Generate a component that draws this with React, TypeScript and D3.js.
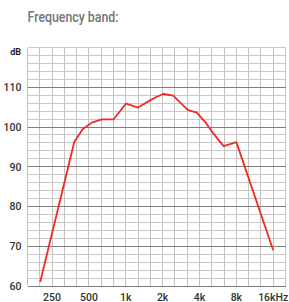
import * as d3 from "d3";

// response curve
const curveHz = [200, 380, 446, 528, 637, 793, 1006, 1260, 1578, 1790, 2027, 2446, 3200, 3800, 4440, 5180, 6300, 8000, 16000];
const curveDb = [61, 96.3, 99.5, 101.1, 101.9, 101.9, 105.9, 104.9, 106.7, 107.6, 108.3, 107.9, 104.3, 103.6, 101.3, 98.4, 95.2, 96.2, 69];

const xTickHz = [250, 500, 1000, 2000, 4000, 8000, 16000];
const xTickLabels = ["250", "500", "1k", "2k", "4k", "8k", "16kHz"];
const yTicks = [60, 70, 80, 90, 100, 110];

const width = 289;
const height = 302;
const marginLeft = 27.5;
const marginRight = 3.5;
const marginTop = 47.5;
const marginBottom = 16;

export default function App() {
  const x = d3
    .scaleLog()
    .base(2)
    .domain([1000 * Math.pow(2, -8 / 3), 1000 * Math.pow(2, 13 / 3)])
    .range([marginLeft, width - marginRight]);
  const y = d3
    .scaleLinear()
    .domain([60, 120])
    .range([height - marginBottom, marginTop]);

  // third-octave grid
  const vLines = d3.range(-8, 14).map((n) => 1000 * Math.pow(2, n / 3));
  const hLines = d3.range(60, 121, 2);

  const line = d3
    .line<number>()
    .x((_, i) => x(curveHz[i]))
    .y((d) => y(d));

  return (
    <svg
      width={width}
      height={height}
      style={{ position: "absolute", left: 0, top: 0, background: "#fff" }}
      fontFamily="Roboto, 'DejaVu Sans', sans-serif"
    >
      <text x={27.5} y={22} fontSize={15.5} fontWeight={500} fill="#757575" textLength={91} lengthAdjust="spacingAndGlyphs">
        Frequency band:
      </text>

      <g shapeRendering="crispEdges">
        {vLines.map((f, i) => (
          <line key={"v" + i} x1={x(f)} x2={x(f)} y1={y(60)} y2={y(120)} stroke="#c2c2c2" strokeWidth={1} />
        ))}
        {hLines.map((d) => (
          <line
            key={"h" + d}
            x1={marginLeft}
            x2={width - marginRight}
            y1={y(d)}
            y2={y(d)}
            stroke={d % 10 === 0 && d < 120 ? "#7c7c7c" : "#c8c8c8"}
            strokeWidth={1}
          />
        ))}
      </g>

      <text x={21} y={54.5} fontSize={9} fontWeight={700} fill="#222" textAnchor="end">
        dB
      </text>
      {yTicks.map((d) => (
        <text key={"y" + d} x={21.5} y={y(d)} dy="0.36em" fontSize={10.5} fontWeight={500} fill="#333" textAnchor="end">
          {d}
        </text>
      ))}
      {xTickHz.map((f, i) => (
        <text key={"x" + f} x={x(f)} y={300.5} fontSize={10.5} fontWeight={500} fill="#333" textAnchor="middle">
          {xTickLabels[i]}
        </text>
      ))}

      <path d={line(curveDb) ?? ""} fill="none" stroke="#ee2a24" strokeWidth={1.8} strokeLinejoin="round" />
    </svg>
  );
}
